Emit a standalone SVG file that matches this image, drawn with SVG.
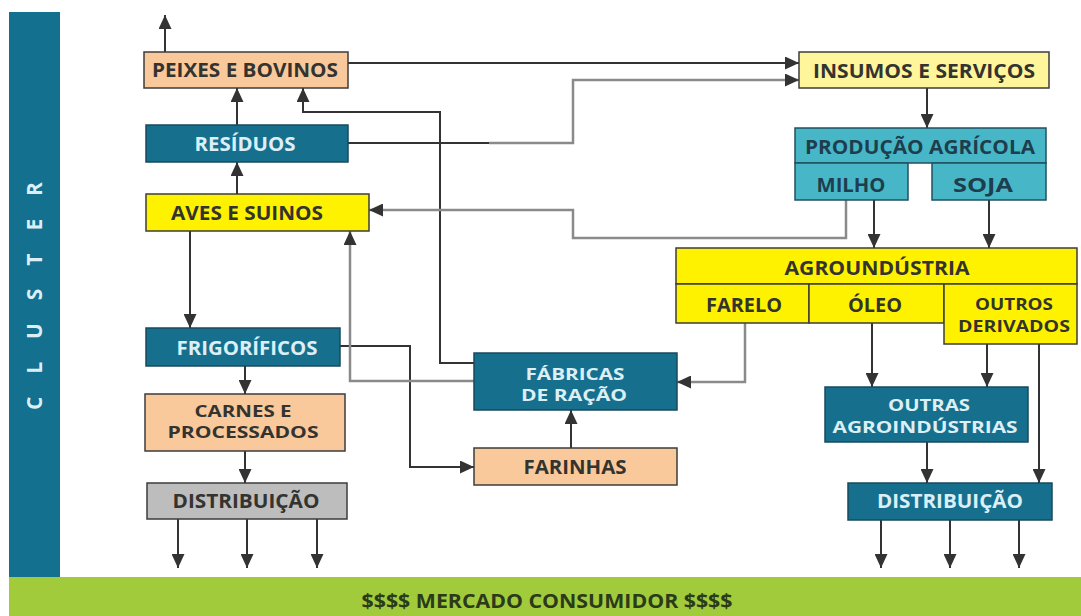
<svg xmlns="http://www.w3.org/2000/svg" width="1081" height="616" viewBox="0 0 1081 616">
<style>
.bg{fill:#ffffff}
.peach{fill:#F9C99C;stroke:#3d3d3d;stroke-width:1.5}
.teal{fill:#176F8E;stroke:#1a4a5c;stroke-width:1.5}
.yellow{fill:#FFF200;stroke:#3d3d3d;stroke-width:1.5}
.lyellow{fill:#FFF59B;stroke:#3d3d3d;stroke-width:1.5}
.cyan{fill:#47B7C8;stroke:#22505e;stroke-width:1.5}
.gray{fill:#BDBDBD;stroke:#3d3d3d;stroke-width:1.5}
.t{font-family:"Open Sans","Liberation Sans",sans-serif;font-weight:700;font-size:19px;text-anchor:middle}
.t2{font-size:16.5px}
.dk{fill:#333330}
.lt{fill:#DCEFF6}
.nv{fill:#1E3E4E}
.c{fill:none;stroke:#333;stroke-width:2}
.g{fill:none;stroke:#8a8a8a;stroke-width:2.5}
</style>
<defs>
<marker id="ah" viewBox="0 0 14 13" refX="14" refY="6.5" markerWidth="14" markerHeight="13" markerUnits="userSpaceOnUse" orient="auto">
<path d="M0,0 L14,6.5 L0,13 z" fill="#333"/>
</marker>
</defs>
<rect class="bg" x="0" y="0" width="1081" height="616"/>

<g id="cluster-bar">
<rect x="9" y="12" width="51" height="565" fill="#13708F"/>
<text transform="translate(42,296) rotate(-90)" text-anchor="middle" font-family="'Open Sans','Liberation Sans',sans-serif" font-weight="700" font-size="21" fill="#DCEFF6" textLength="228" lengthAdjust="spacing">CLUSTER</text>
</g>

<g id="mercado">
<rect x="9" y="577" width="1072" height="39" fill="#A2CB3C"/>
<text class="t" x="547" y="608" font-size="20" fill="#2b3a1a" textLength="371" lengthAdjust="spacingAndGlyphs">$$$$ MERCADO CONSUMIDOR $$$$</text>
</g>

<g id="connectors">
<polyline class="c" points="165,52 165,15" marker-end="url(#ah)"/>
<polyline class="c" points="237,125 237,88" marker-end="url(#ah)"/>
<polyline class="c" points="237,194 237,162" marker-end="url(#ah)"/>
<polyline class="c" points="474,363 440,363 440,112 303,112 303,88" marker-end="url(#ah)"/>
<polyline class="c" points="348,63 799,63" marker-end="url(#ah)"/>
<polyline class="c" points="348,143 490,143"/>
<polyline class="g" points="489,143 573,143 573,80 799,80" marker-end="url(#ah)"/>
<polyline class="c" points="927,88 927,128" marker-end="url(#ah)"/>
<polyline class="c" points="874,200 874,248" marker-end="url(#ah)"/>
<polyline class="c" points="989,200 989,248" marker-end="url(#ah)"/>
<polyline class="g" points="846,200 846,238 573,238 573,210 369,210" marker-end="url(#ah)"/>
<polyline class="c" points="190,231 190,328" marker-end="url(#ah)"/>
<polyline class="c" points="245,366 245,394" marker-end="url(#ah)"/>
<polyline class="c" points="245,451 245,483" marker-end="url(#ah)"/>
<polyline class="c" points="178,519 178,568" marker-end="url(#ah)"/>
<polyline class="c" points="247,519 247,568" marker-end="url(#ah)"/>
<polyline class="c" points="317,519 317,568" marker-end="url(#ah)"/>
<polyline class="c" points="340,346 410,346 410,467 474,467" marker-end="url(#ah)"/>
<polyline class="c" points="571,448 571,410" marker-end="url(#ah)"/>
<polyline class="g" points="474,381 350,381 350,231" marker-end="url(#ah)"/>
<polyline class="g" points="745,323 745,382 677,382" marker-end="url(#ah)"/>
<polyline class="c" points="872,323 872,387" marker-end="url(#ah)"/>
<polyline class="c" points="987,344 987,387" marker-end="url(#ah)"/>
<polyline class="c" points="1039,344 1039,483" marker-end="url(#ah)"/>
<polyline class="c" points="927,442 927,483" marker-end="url(#ah)"/>
<polyline class="c" points="881,520 881,568" marker-end="url(#ah)"/>
<polyline class="c" points="950,520 950,568" marker-end="url(#ah)"/>
<polyline class="c" points="1019,520 1019,568" marker-end="url(#ah)"/>
</g>

<g id="peixes">
<rect class="peach" x="144" y="52" width="204" height="36"/>
<text class="t dk" x="245" y="77" textLength="186" lengthAdjust="spacingAndGlyphs">PEIXES E BOVINOS</text>
</g>
<g id="residuos">
<rect class="teal" x="146" y="125" width="202" height="37"/>
<text class="t lt" x="245" y="151" textLength="101" lengthAdjust="spacingAndGlyphs">RESÍDUOS</text>
</g>
<g id="aves">
<rect class="yellow" x="146" y="194" width="223" height="37"/>
<text class="t dk" x="247" y="220" textLength="152" lengthAdjust="spacingAndGlyphs">AVES E SUINOS</text>
</g>
<g id="frigorificos">
<rect class="teal" x="146" y="328" width="194" height="38"/>
<text class="t lt" x="247" y="355" textLength="141" lengthAdjust="spacingAndGlyphs">FRIGORÍFICOS</text>
</g>
<g id="carnes">
<rect class="peach" x="145" y="394" width="200" height="57"/>
<text class="t t2 dk" x="243" y="417" textLength="97" lengthAdjust="spacingAndGlyphs">CARNES E</text>
<text class="t t2 dk" x="243" y="438" textLength="151" lengthAdjust="spacingAndGlyphs">PROCESSADOS</text>
</g>
<g id="distribuicao-1">
<rect class="gray" x="147" y="483" width="200" height="36"/>
<text class="t dk" x="246" y="508" textLength="147" lengthAdjust="spacingAndGlyphs">DISTRIBUIÇÃO</text>
</g>
<g id="fabricas">
<rect class="teal" x="474" y="353" width="203" height="57"/>
<text class="t t2 lt" x="575" y="380" textLength="99" lengthAdjust="spacingAndGlyphs">FÁBRICAS</text>
<text class="t t2 lt" x="574" y="401" textLength="106" lengthAdjust="spacingAndGlyphs">DE RAÇÃO</text>
</g>
<g id="farinhas">
<rect class="peach" x="474" y="448" width="203" height="37"/>
<text class="t dk" x="575" y="474" textLength="103" lengthAdjust="spacingAndGlyphs">FARINHAS</text>
</g>
<g id="insumos">
<rect class="lyellow" x="799" y="52" width="250" height="36"/>
<text class="t dk" x="924" y="78" textLength="222" lengthAdjust="spacingAndGlyphs">INSUMOS E SERVIÇOS</text>
</g>
<g id="producao">
<rect class="cyan" x="795" y="128" width="251" height="35"/>
<text class="t nv" x="920" y="154" textLength="230" lengthAdjust="spacingAndGlyphs">PRODUÇÃO AGRÍCOLA</text>
<rect class="cyan" x="795" y="163" width="113" height="37"/>
<text class="t nv" x="851" y="192" textLength="69" lengthAdjust="spacingAndGlyphs">MILHO</text>
<rect class="cyan" x="932" y="163" width="114" height="37"/>
<text class="t nv" x="983" y="192" textLength="60" lengthAdjust="spacingAndGlyphs">SOJA</text>
</g>
<g id="agroindustria">
<rect class="yellow" x="676" y="248" width="401" height="36"/>
<text class="t dk" x="877" y="275" textLength="185" lengthAdjust="spacingAndGlyphs">AGROUNDÚSTRIA</text>
<rect class="yellow" x="676" y="284" width="133" height="39"/>
<text class="t dk" x="744" y="312" textLength="76" lengthAdjust="spacingAndGlyphs">FARELO</text>
<rect class="yellow" x="809" y="284" width="135" height="39"/>
<text class="t dk" x="875" y="312" textLength="54" lengthAdjust="spacingAndGlyphs">ÓLEO</text>
<rect class="yellow" x="944" y="284" width="133" height="60"/>
<text class="t t2 dk" x="1014" y="310" textLength="78" lengthAdjust="spacingAndGlyphs">OUTROS</text>
<text class="t t2 dk" x="1014" y="332" textLength="112" lengthAdjust="spacingAndGlyphs">DERIVADOS</text>
</g>
<g id="outras">
<rect class="teal" x="825" y="387" width="203" height="55"/>
<text class="t t2 lt" x="929" y="411" textLength="82" lengthAdjust="spacingAndGlyphs">OUTRAS</text>
<text class="t t2 lt" x="925" y="433" textLength="185" lengthAdjust="spacingAndGlyphs">AGROINDÚSTRIAS</text>
</g>
<g id="distribuicao-2">
<rect class="teal" x="848" y="483" width="204" height="37"/>
<text class="t lt" x="950" y="508" textLength="146" lengthAdjust="spacingAndGlyphs">DISTRIBUIÇÃO</text>
</g>
</svg>
